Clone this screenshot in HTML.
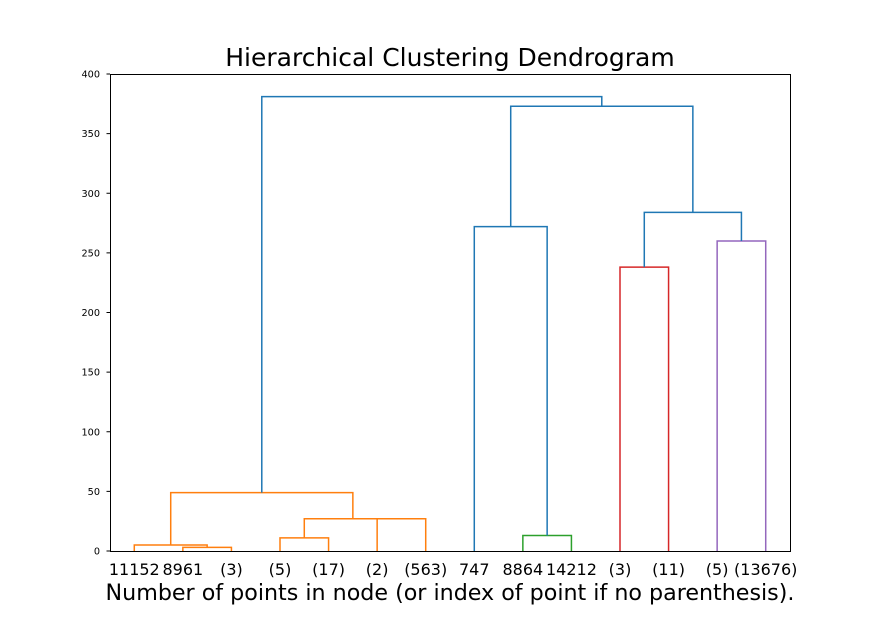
<!DOCTYPE html>
<html><head><meta charset="utf-8"><style>
html,body{margin:0;padding:0;background:#fff;}
svg{display:block;font-family:"DejaVu Sans","Liberation Sans",sans-serif;}
</style></head><body>
<svg id="chart" width="877" height="619" xmlns="http://www.w3.org/2000/svg">
<text x="450" y="66" font-size="25" text-anchor="middle">Hierarchical Clustering Dendrogram</text>
<text x="450" y="600" font-size="22.2" text-anchor="middle">Number of points in node (or index of point if no parenthesis).</text>
<g id="links"></g>
<rect x="110.5" y="74.5" width="680" height="477" fill="none" stroke="#000" stroke-width="1"/>
<g id="yaxis"></g>
<g id="xaxis"></g>
</svg>
<script>
const leafLabels = ["11152","8961","(3)","(5)","(17)","(2)","(563)","747","8864","14212","(3)","(11)","(5)","(13676)"];
const leftChild  = [1, 0, 3, 5, 16, 15, 8, 7, 10, 12, 22, 21, 19];
const rightChild = [2, 14, 4, 6, 17, 18, 9, 20, 11, 13, 23, 24, 25];
const mergeHeights = [3, 5, 11, 27, 27, 49, 13, 272, 238, 260, 284, 373, 381];
const linkColors = ["#ff7f0e","#ff7f0e","#ff7f0e","#ff7f0e","#ff7f0e","#ff7f0e","#2ca02c","#1f77b4","#d62728","#9467bd","#1f77b4","#1f77b4","#1f77b4"];
const yTicks = [0,50,100,150,200,250,300,350,400];

const NS = "http://www.w3.org/2000/svg";
const X0 = 110, X1 = 790, Y0 = 551, Y1 = 74;
const n = leafLabels.length;
const xScale = u => X0 + u / (10 * n) * (X1 - X0);
const yScale = v => Y0 - v / 400 * (Y0 - Y1);

const pos = [], hgt = [];
for (let i = 0; i < n; i++) { pos.push(xScale(5 + 10 * i)); hgt.push(0); }

const links = document.getElementById('links');
for (let k = 0; k < leftChild.length; k++) {
  const a = leftChild[k], b = rightChild[k], h = mergeHeights[k];
  const xa = pos[a], xb = pos[b], ya = yScale(hgt[a]), yb = yScale(hgt[b]), yh = yScale(h);
  const p = document.createElementNS(NS, 'path');
  
  
  p.setAttribute('d', `M${xa},${ya} L${xa},${yh} L${xb},${yh} L${xb},${yb}`);
  p.setAttribute('fill', 'none');
  p.setAttribute('stroke', linkColors[k]);
  p.setAttribute('stroke-width', '1.5');
  links.appendChild(p);
  pos.push((xa + xb) / 2); hgt.push(h);
}

const ya = document.getElementById('yaxis');
yTicks.forEach(t => {
  const y = yScale(t);
  const l = document.createElementNS(NS, 'line');
  
  
  l.setAttribute('x1', X0 - 3.5); l.setAttribute('x2', X0);
  l.setAttribute('y1', y); l.setAttribute('y2', y);
  l.setAttribute('stroke', '#000');
  ya.appendChild(l);
  const tx = document.createElementNS(NS, 'text');
  
  
  tx.setAttribute('x', X0 - 10); tx.setAttribute('y', y + 3.5);
  tx.setAttribute('font-size', '9.7'); tx.setAttribute('text-anchor', 'end');
  tx.textContent = t;
  ya.appendChild(tx);
});

const xa = document.getElementById('xaxis');
leafLabels.forEach((lab, i) => {
  const tx = document.createElementNS(NS, 'text');
  
  
  tx.setAttribute('x', pos[i]); tx.setAttribute('y', 575);
  tx.setAttribute('font-size', '16'); tx.setAttribute('text-anchor', 'middle');
  tx.textContent = lab;
  xa.appendChild(tx);
});
</script>
</body></html>
